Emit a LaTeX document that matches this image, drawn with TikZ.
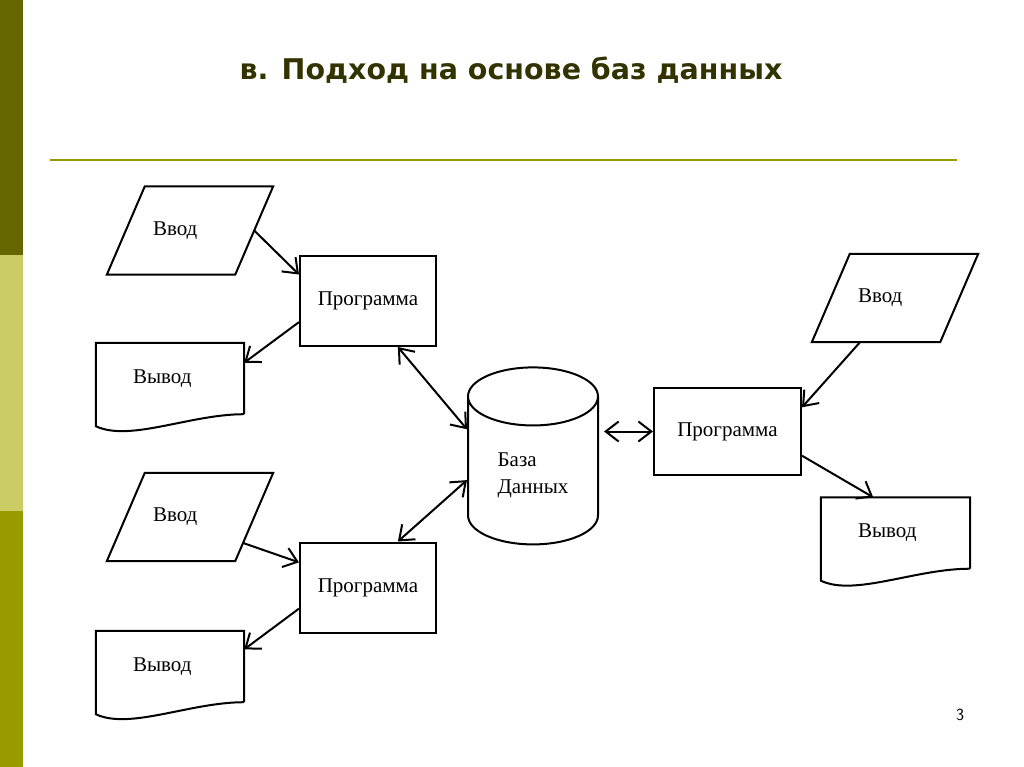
\documentclass[tikz,border=0pt]{standalone}
\usepackage{fontspec}
\setmainfont{Liberation Serif}
\newfontfamily\titlefont{DejaVu Sans}
\usetikzlibrary{arrows.meta,shapes.geometric}
\definecolor{barDark}{HTML}{666600}
\definecolor{barLight}{HTML}{CCCC66}
\definecolor{barOlive}{HTML}{999900}
\definecolor{titleInk}{HTML}{333300}
\tikzset{
  boxfont/.style={font=\fontsize{21}{27}\selectfont},
  progbox/.style={draw,line width=2pt,rectangle,minimum width=136pt,minimum height=90pt,boxfont},
  inbox/.style={rectangle,inner xsep=46pt,text width=74pt,align=left,minimum height=88pt,boxfont},
  outbox/.style={rectangle,inner xsep=37pt,text width=74pt,align=left,minimum height=71pt,boxfont},
  dbase/.style={draw,line width=2pt,cylinder,shape border rotate=90,aspect=0.75,
    minimum width=130pt,minimum height=177pt,align=left,boxfont},
  barb/.tip={Straight Barb[length=13pt,width=20pt,line width=2pt]},
  link/.style={line width=2pt,-barb},
  duplex/.style={line width=2pt,barb-barb}
}
\begin{document}
\begin{tikzpicture}[x=1pt,y=-1pt]
\useasboundingbox (0,0) rectangle (1024,767);

% side bar and rule
\fill[barDark] (0,0) rectangle (23,255);
\fill[barLight] (0,255) rectangle (23,511);
\fill[barOlive] (0,511) rectangle (23,767);
\draw[barOlive,line width=2.2pt] (50,160) -- (957,160);

\node[text=titleInk,font=\titlefont\bfseries\fontsize{28.5}{32}\selectfont] (title) at (511,70) {в. Подход на основе баз данных};
\node[font=\sffamily\fontsize{17}{19}\selectfont] (page) at (960,715) {3};

% left column
\node[inbox] (in1) at (190,230.5) {Ввод};
\node[progbox] (prog1) at (368,301) {Программа};
\node[outbox] (out1) at (170,378.5) {Вывод};
\node[inbox] (in2) at (190,517) {Ввод};
\node[progbox] (prog2) at (368,587.5) {Программа};
\node[outbox] (out2) at (170,666.5) {Вывод};

% database
\node[dbase] (db) at (533,475.5) {База\\Данных};

% right column
\node[inbox] (in3) at (895,298) {Ввод};
\node[progbox,minimum width=147pt,minimum height=87pt] (prog3) at (727.5,431.5) {Программа};
\node[outbox,text width=75pt] (out3) at (895.5,533) {Вывод};

% input parallelograms
\foreach \n in {in1,in2,in3}
  \draw[line width=2pt] ([xshift=38pt]\n.north west) -- (\n.north east)
    -- ([xshift=-38pt]\n.south east) -- (\n.south west) -- cycle;

% document outlines with wavy bottom
\foreach \n in {out1,out2,out3}
  \draw[line width=2pt] (\n.south east) -- (\n.north east) -- (\n.north west)
    -- ([yshift=-12pt]\n.south west)
    .. controls ([xshift=34pt,yshift=-28pt]\n.south west) and ([xshift=94pt,yshift=0pt]\n.south west) .. (\n.south east);

% connectors
\draw[link] ([xshift=-19pt]in1.east) -- (prog1.159);
\draw[link] (prog1.197) -- (out1.12);
\draw[duplex] (prog1.303) -- (db.145);
\draw[link] ([xshift=-30pt,yshift=-26pt]in2.east) -- (prog2.160);
\draw[link] (prog2.197) -- (out2.13);
\draw[duplex] (prog2.57) -- (db.184);
\draw[duplex,shorten <=5pt] (prog3.west -| db.east) -- (prog3.west);
\draw[link] ([xshift=-35pt]in3.south) -- (prog3.18);
\draw[link] (prog3.342) -- (out3.122);
\end{tikzpicture}
\end{document}
